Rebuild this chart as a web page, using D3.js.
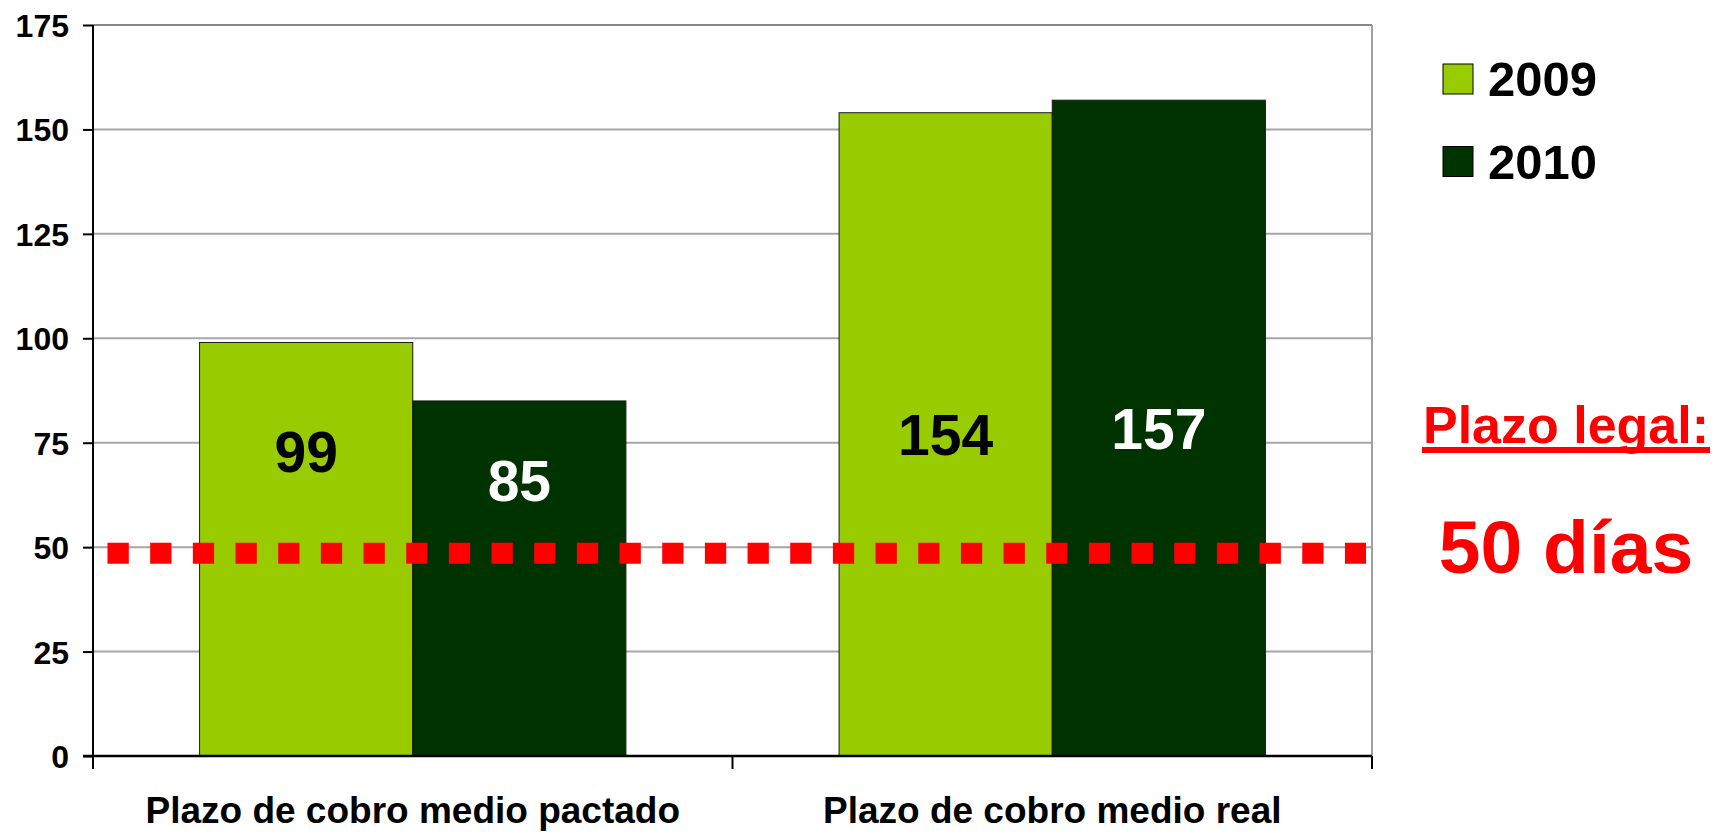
<!DOCTYPE html>
<html>
<head>
<meta charset="utf-8">
<script src="https://cdn.jsdelivr.net/npm/d3@7"></script>
<style>
    body { margin: 0; background: #fff; }
    svg { display: block; font-family: "Liberation Sans", Arial, sans-serif; font-weight: bold; }
</style>
</head>
<body>
<div id="chart"></div>
<script>
var categories = ["Plazo de cobro medio pactado", "Plazo de cobro medio real"];
var seriesNames = ["2009", "2010"];
var values2009 = [99, 154];
var values2010 = [85, 157];
var yTicks = [0, 25, 50, 75, 100, 125, 150, 175];
var legalLimit = 50;
var legalTitle = "Plazo legal:";
var legalText = "50 días";

var colors = { "2009": "#99cc00", "2010": "#003300" };
var labelColors = { "2009": "#000", "2010": "#fff" };

var margin = { top: 25, right: 345, bottom: 78, left: 93 },
    width = 1717 - margin.left - margin.right,
    height = 834 - margin.top - margin.bottom;

var svg = d3.select("#chart").append("svg")
    .attr("width", 1717)
    .attr("height", 834)

var g = svg.append("g")
    .attr("transform", "translate(" + margin.left + "," + margin.top + ")")

var data = [];
categories.forEach(function (c, i) {
    data.push({ category: c, series: "2009", value: values2009[i] })
    data.push({ category: c, series: "2010", value: values2010[i] })
})

var x0 = d3.scaleBand()
    .domain(categories)
    .range([0, width])

var x1 = d3.scaleBand()
    .domain(seriesNames)
    .range([0, x0.bandwidth()])
    .paddingOuter(0.5)

var y = d3.scaleLinear()
    .domain([0, 175])
    .range([height, 0])

// gridlines
g.append("g")
    .attr("class", "grid")
    .selectAll("line")
    .data(yTicks.filter(function (d) { return d > 0 }))
    .enter().append("line")
    .attr("x1", 0)
    .attr("x2", width)
    .attr("y1", function (d) { return y(d) })
    .attr("y2", function (d) { return y(d) })
    .attr("stroke", function (d) { return d == 175 ? "#888" : "#a6a6a6" })
    .attr("stroke-width", 2)

// right border of plot area
g.append("line")
    .attr("x1", width).attr("x2", width)
    .attr("y1", 0).attr("y2", height)
    .attr("stroke", "#a0a0a0")
    .attr("stroke-width", 2)

// bars
g.selectAll("rect.bar")
    .data(data)
    .enter().append("rect")
    .attr("class", "bar")
    .attr("x", function (d) { return x0(d.category) + x1(d.series) })
    .attr("y", function (d) { return y(d.value) })
    .attr("width", x1.bandwidth())
    .attr("height", function (d) { return height - y(d.value) })
    .attr("fill", function (d) { return colors[d.series] })
    .attr("stroke", "#1a1a1a")
    .attr("stroke-width", 1)

// y axis
var yAxis = g.append("g")
    .attr("class", "y-axis")
    .call(d3.axisLeft(y)
        .tickValues(yTicks)
        .tickSize(10)
        .tickPadding(14)
        .tickSizeOuter(0))

yAxis.select(".domain")
    .attr("stroke", "#000")
    .attr("stroke-width", 2)
    .attr("d", "M0," + y(175) + "V" + (height + 13))

yAxis.selectAll(".tick line")
    .attr("stroke", "#000")
    .attr("stroke-width", 2)

yAxis.selectAll(".tick text")
    .attr("font-size", 32)
    .attr("font-weight", "bold")
    .attr("font-family", "Liberation Sans, Arial, sans-serif")
    .attr("fill", "#000")
    .attr("dy", "0.36em")

// x axis
var xAxis = g.append("g")
    .attr("class", "x-axis")
    .attr("transform", "translate(0," + height + ")")

xAxis.append("line")
    .attr("x1", -10).attr("x2", width)
    .attr("stroke", "#000")
    .attr("stroke-width", 2.5)

var xTickPos = categories.map(function (c) { return x0(c) }).concat([width])
xAxis.selectAll("line.xtick")
    .data(xTickPos)
    .enter().append("line")
    .attr("class", "xtick")
    .attr("x1", function (d) { return d }).attr("x2", function (d) { return d })
    .attr("y1", 0).attr("y2", 13)
    .attr("stroke", "#000")
    .attr("stroke-width", 2)

xAxis.selectAll("text.cat")
    .data(categories)
    .enter().append("text")
    .attr("class", "cat")
    .attr("x", function (d) { return x0(d) + x0.bandwidth() / 2 })
    .attr("y", 67)
    .attr("text-anchor", "middle")
    .attr("font-size", 37)
    .attr("fill", "#000")
    .text(function (d) { return d })

// value labels (first group sits above the red line)
var labelLift = { "Plazo de cobro medio pactado": 23.5 }

g.selectAll("text.val")
    .data(data)
    .enter().append("text")
    .attr("class", "val")
    .attr("x", function (d) { return x0(d.category) + x1(d.series) + x1.bandwidth() / 2 })
    .attr("y", function (d) { return y(d.value / 2 + (labelLift[d.category] || 0)) })
    .attr("dy", "0.36em")
    .attr("text-anchor", "middle")
    .attr("font-size", 57)
    .attr("fill", function (d) { return labelColors[d.series] })
    .text(function (d) { return d.value })

// legal limit dotted line
g.append("line")
    .attr("x1", 14.5)
    .attr("x2", width - 6)
    .attr("y1", y(legalLimit) + 6)
    .attr("y2", y(legalLimit) + 6)
    .attr("stroke", "#ff0000")
    .attr("stroke-width", 21)
    .attr("stroke-dasharray", "21.3 21.37")

// legend
var legend = svg.selectAll("g.legend")
    .data(seriesNames)
    .enter().append("g")
    .attr("class", "legend")
    .attr("transform", function (d, i) { return "translate(1443," + (64 + i * 82.5) + ")" })

legend.append("rect")
    .attr("width", 30)
    .attr("height", 30)
    .attr("fill", function (d) { return colors[d] })
    .attr("stroke", "#000")
    .attr("stroke-width", 1)

legend.append("text")
    .attr("x", 45)
    .attr("y", 32)
    .attr("font-size", 49)
    .attr("fill", "#000")
    .text(function (d) { return d })

// legal annotation
var title = svg.append("text")
    .attr("x", 1566)
    .attr("y", 443)
    .attr("text-anchor", "middle")
    .attr("font-size", 52)
    .attr("fill", "#ff0000")
    .text(legalTitle)

var tw = title.node().getComputedTextLength()
svg.append("rect")
    .attr("x", 1566 - tw / 2 - 1)
    .attr("y", 447)
    .attr("width", tw + 2)
    .attr("height", 6)
    .attr("fill", "#ff0000")

svg.append("text")
    .attr("x", 1566)
    .attr("y", 573)
    .attr("text-anchor", "middle")
    .attr("font-size", 75)
    .attr("fill", "#ff0000")
    .text(legalText)
</script>
</body>
</html>
